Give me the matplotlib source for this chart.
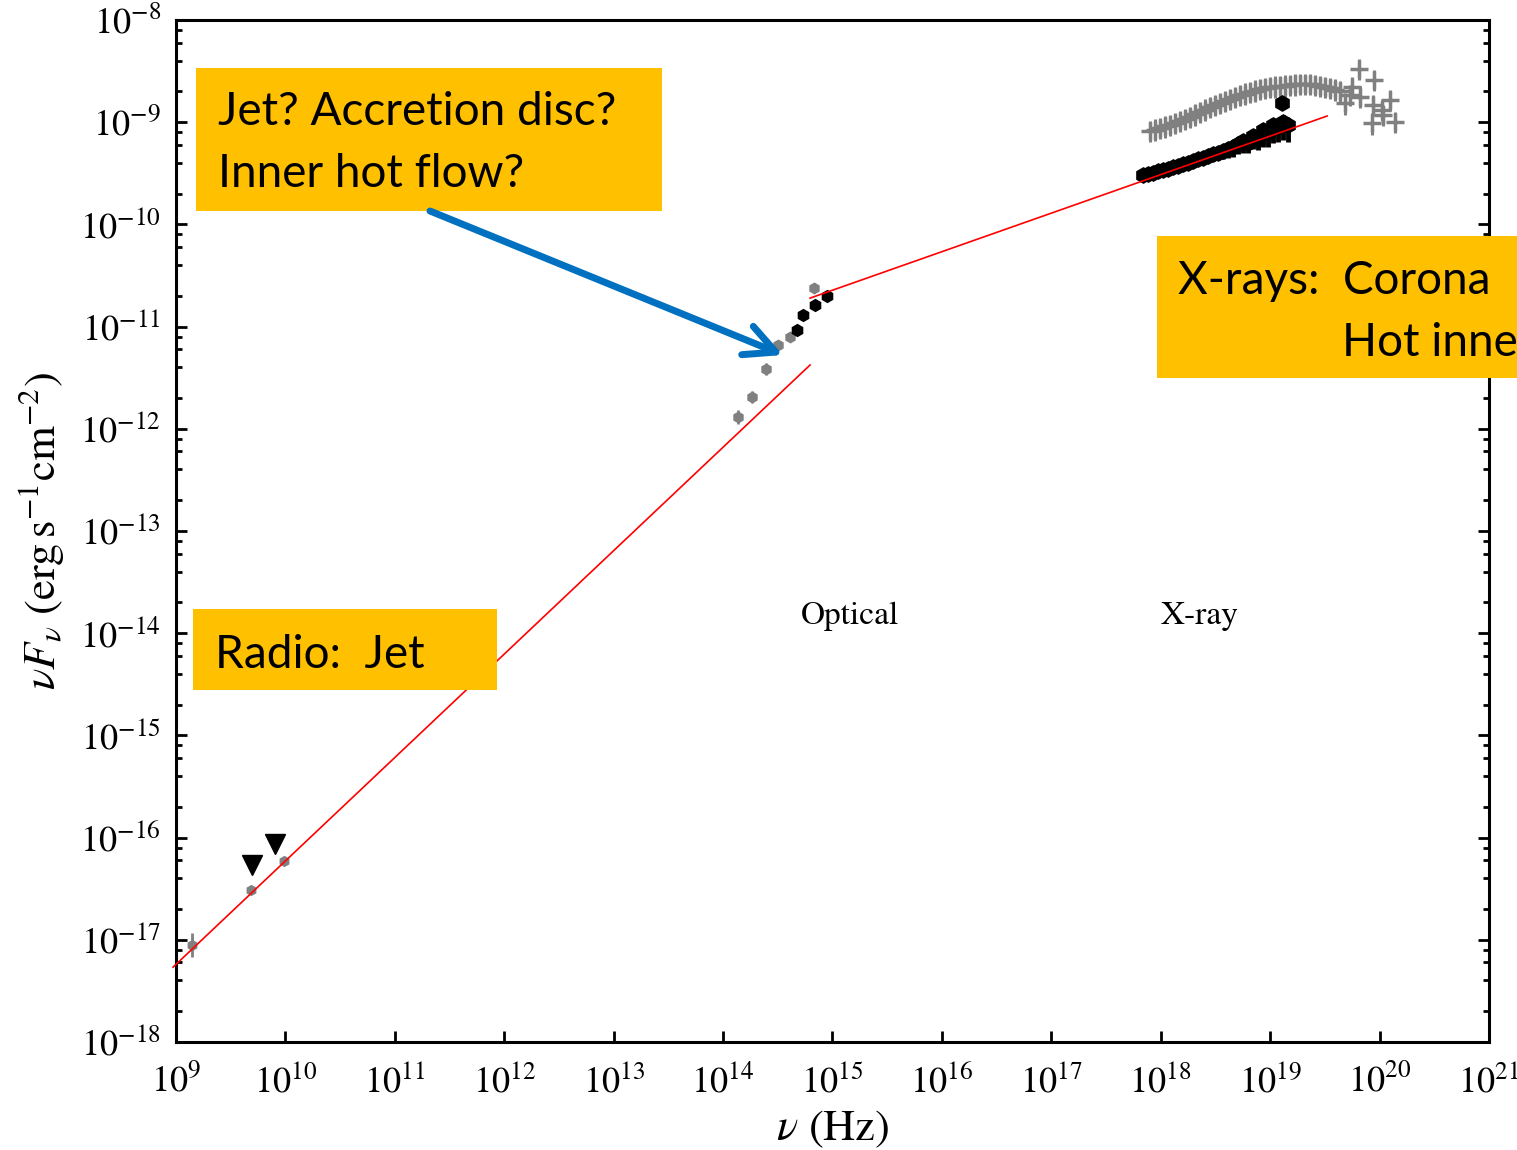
import numpy as np
import matplotlib.pyplot as plt
from matplotlib.patches import Rectangle, FancyArrowPatch
from matplotlib.ticker import NullLocator

plt.rcParams['font.family'] = 'STIXGeneral'
plt.rcParams['mathtext.fontset'] = 'stix'

# radio detections (Hz, erg/s/cm2) and error in dex
radio_nu = [1.39e9, 4.86e9, 9.77e9]
radio_flux = [8.9e-18, 3.07e-17, 5.9e-17]
radio_err = [0.12, 0.03, 0.03]

# radio upper limits
ul_nu = [4.98e9, 8.04e9]
ul_flux = [5.4e-17, 8.65e-17]

# optical / IR photometry
opt_gray_nu = [1.38e14, 1.83e14, 2.45e14, 3.16e14, 4.10e14, 6.84e14]
opt_gray_flux = [1.31e-12, 2.06e-12, 3.85e-12, 6.6e-12, 7.96e-12, 2.37e-11]
opt_gray_err = [0.07, 0.06, 0.06, 0.04, 0.03, 0.05]
opt_black_nu = [4.72e14, 5.42e14, 6.93e14, 8.87e14]
opt_black_flux = [9.27e-12, 1.30e-11, 1.63e-11, 2.0e-11]

# X-ray spectrum, bright epoch (grey crosses), flux in 1e-9
xg_nu = [8.00e17, 8.89e17, 9.89e17, 1.10e18, 1.22e18, 1.36e18, 1.50e18, 1.67e18,
         1.86e18, 2.06e18, 2.29e18, 2.55e18, 2.83e18, 3.14e18, 3.49e18, 3.88e18,
         4.31e18, 4.79e18, 5.32e18, 5.90e18, 6.56e18, 7.29e18, 8.11e18, 9.00e18,
         1.00e19, 1.11e19, 1.23e19, 1.37e19, 1.52e19, 1.69e19, 1.88e19, 2.09e19,
         2.32e19, 2.58e19, 2.86e19, 3.18e19, 3.53e19, 3.93e19, 4.36e19,
         6.55e19, 8.97e19, 5.57e19, 5.38e19, 4.84e19, 6.64e19, 8.79e19, 1.25e20,
         1.05e20, 8.49e19, 1.39e20, 1.08e20]
xg_flux = [0.820, 0.848, 0.877, 0.908, 0.939, 0.982, 1.027, 1.075,
           1.124, 1.190, 1.258, 1.331, 1.408, 1.473, 1.541, 1.612,
           1.687, 1.765, 1.845, 1.909, 1.975, 2.043, 2.113, 2.161,
           2.210, 2.235, 2.261, 2.286, 2.312, 2.339, 2.365, 2.365,
           2.365, 2.312, 2.261, 2.210, 2.161, 2.089, 2.019,
           3.32, 2.59, 2.22, 1.85, 1.53, 1.78, 1.47, 1.65,
           1.32, 0.975, 1.01, 1.18]

# X-ray spectrum, faint epoch (black), flux in 1e-10, errors in dex
xb_nu = [6.90e17, 7.67e17, 8.52e17, 9.47e17, 1.052e18, 1.169e18, 1.298e18, 1.442e18,
         1.602e18, 1.780e18, 1.977e18, 2.197e18, 2.440e18, 2.711e18, 3.012e18,
         3.346e18, 3.717e18, 4.130e18, 4.588e18, 5.097e18, 5.662e18, 6.291e18,
         6.989e18, 7.764e18, 8.626e18, 9.583e18, 1.065e19, 1.183e19, 1.314e19,
         1.460e19, 1.28e19]
xb_flux = [3.04, 3.11, 3.22, 3.33, 3.41, 3.52, 3.64, 3.77,
           3.90, 4.03, 4.17, 4.32, 4.46, 4.67, 4.88,
           5.05, 5.28, 5.47, 5.72, 6.10, 6.50, 6.30,
           7.40, 6.90, 8.30, 7.90, 9.30, 9.00, 10.0,
           9.30, 15.3]
xb_lo = [0.03, 0.03, 0.03, 0.03, 0.03, 0.04, 0.04, 0.04,
         0.04, 0.05, 0.05, 0.05, 0.06, 0.06, 0.07,
         0.07, 0.08, 0.09, 0.10, 0.10, 0.11, 0.10,
         0.13, 0.11, 0.16, 0.14, 0.17, 0.15, 0.17,
         0.16, 0.0]
xb_hi = [0.02, 0.02, 0.02, 0.02, 0.02, 0.02, 0.03, 0.03,
         0.03, 0.03, 0.03, 0.03, 0.04, 0.04, 0.04,
         0.04, 0.05, 0.05, 0.05, 0.05, 0.06, 0.06,
         0.06, 0.06, 0.07, 0.07, 0.07, 0.07, 0.07,
         0.07, 0.0]

# power-law segments
fit1_nu = [9.4e8, 6.24e14]
fit1_flux = [5.4e-18, 4.21e-12]
fit2_nu = [6.24e14, 3.32e19]
fit2_flux = [1.9e-11, 1.15e-9]


def dex_err(flux, lo, hi):
    flux = np.asarray(flux)
    return [flux * (1 - 10 ** -np.asarray(lo)), flux * (10 ** np.asarray(hi) - 1)]


fig = plt.figure(figsize=(15.17, 11.5), dpi=100)
ax = fig.add_axes([0.116, 0.0939, 0.8655, 0.8887])

grey = '#808080'

xgf = np.array(xg_flux) * 1e-9
ax.errorbar(xg_nu, xgf, yerr=dex_err(xgf, 0.11, 0.1), fmt='+', color=grey,
            ms=13, mew=2.5, elinewidth=2.2, capsize=0, zorder=2)

xbf = np.array(xb_flux) * 1e-10
ax.errorbar(xb_nu, xbf, yerr=dex_err(xbf, xb_lo, xb_hi), fmt='h', color='k',
            ms=11, elinewidth=3.5, capsize=0, zorder=3)

ax.errorbar(radio_nu, radio_flux, yerr=dex_err(radio_flux, radio_err, radio_err),
            fmt='h', color=grey, ms=7, elinewidth=2, capsize=0, zorder=3)
ax.plot(ul_nu, ul_flux, 'v', color='k', ms=15, zorder=3)

ax.errorbar(opt_gray_nu, opt_gray_flux, yerr=dex_err(opt_gray_flux, opt_gray_err, opt_gray_err),
            fmt='h', color=grey, ms=7.5, elinewidth=2, capsize=0, zorder=3)
ax.errorbar(opt_black_nu, opt_black_flux, fmt='h', color='k', ms=8.5, zorder=3)

ax.plot(fit1_nu, fit1_flux, color='red', lw=1.2, zorder=4, clip_on=False)
ax.plot(fit2_nu, fit2_flux, color='red', lw=1.2, zorder=4)

ax.text(1.45e15, 1.47e-14, 'Optical', fontsize=24, ha='center', va='center')
ax.text(2.29e18, 1.47e-14, 'X-ray', fontsize=24, ha='center', va='center')

ax.set_xscale('log')
ax.set_yscale('log')
ax.set_xlim(1e9, 1e21)
ax.set_ylim(1e-18, 1e-8)
ax.set_xticks([10.0 ** k for k in range(9, 22)])
ax.xaxis.set_minor_locator(NullLocator())
ax.set_yticks([10.0 ** k for k in range(-18, -7)])
ax.set_yticks([m * 10.0 ** k for k in range(-18, -8) for m in (2, 4, 6, 8)], minor=True)
ax.yaxis.set_minor_formatter(plt.NullFormatter())

for s in ax.spines.values():
    s.set_linewidth(2.2)
ax.tick_params(which='both', direction='in', top=False, right=True, width=2)
ax.tick_params(which='major', length=8, labelsize=26)
ax.tick_params(axis='x', which='major', pad=16)
ax.tick_params(axis='y', which='major', pad=11)
ax.tick_params(which='minor', length=4.5)

ax.set_xlabel(r'$\nu$ (Hz)', fontsize=32, labelpad=6)
ax.set_ylabel(r'$\nu F_\nu\ (\mathrm{erg\,s^{-1}cm^{-2}})$', fontsize=32, labelpad=10)

# callout boxes
orange = '#FFC000'
boxes = [(196, 68, 662, 211), (1157, 236, 1517, 378), (193, 609, 497, 690)]
for x0, y0, x1, y1 in boxes:
    fig.add_artist(Rectangle((x0 / 1517, 1 - y1 / 1150), (x1 - x0) / 1517, (y1 - y0) / 1150,
                             transform=fig.transFigure, facecolor=orange,
                             edgecolor='none', zorder=5))

label_font = dict(family='Lato', fontsize=33, zorder=6, va='baseline')
fig.text(218 / 1517, 1 - 125 / 1150, 'Jet? Accretion disc?', **label_font)
fig.text(218 / 1517, 1 - 187 / 1150, 'Inner hot flow?', **label_font)
fig.text(1178 / 1517, 1 - 294 / 1150, 'X-rays:  Corona', **label_font)
fig.text(1342 / 1517, 1 - 356 / 1150, 'Hot inne', **label_font)
fig.text(215 / 1517, 1 - 668 / 1150, 'Radio:  Jet', **label_font)

arrow = FancyArrowPatch((430 / 1517, 1 - 211 / 1150), (783 / 1517, 1 - 355 / 1150),
                        transform=fig.transFigure,
                        arrowstyle='->,head_length=2.2,head_width=1.1',
                        mutation_scale=10, lw=5, color='#0070C0',
                        shrinkA=0, shrinkB=0, zorder=6)
fig.add_artist(arrow)

fig.savefig('out.png', dpi=100)
